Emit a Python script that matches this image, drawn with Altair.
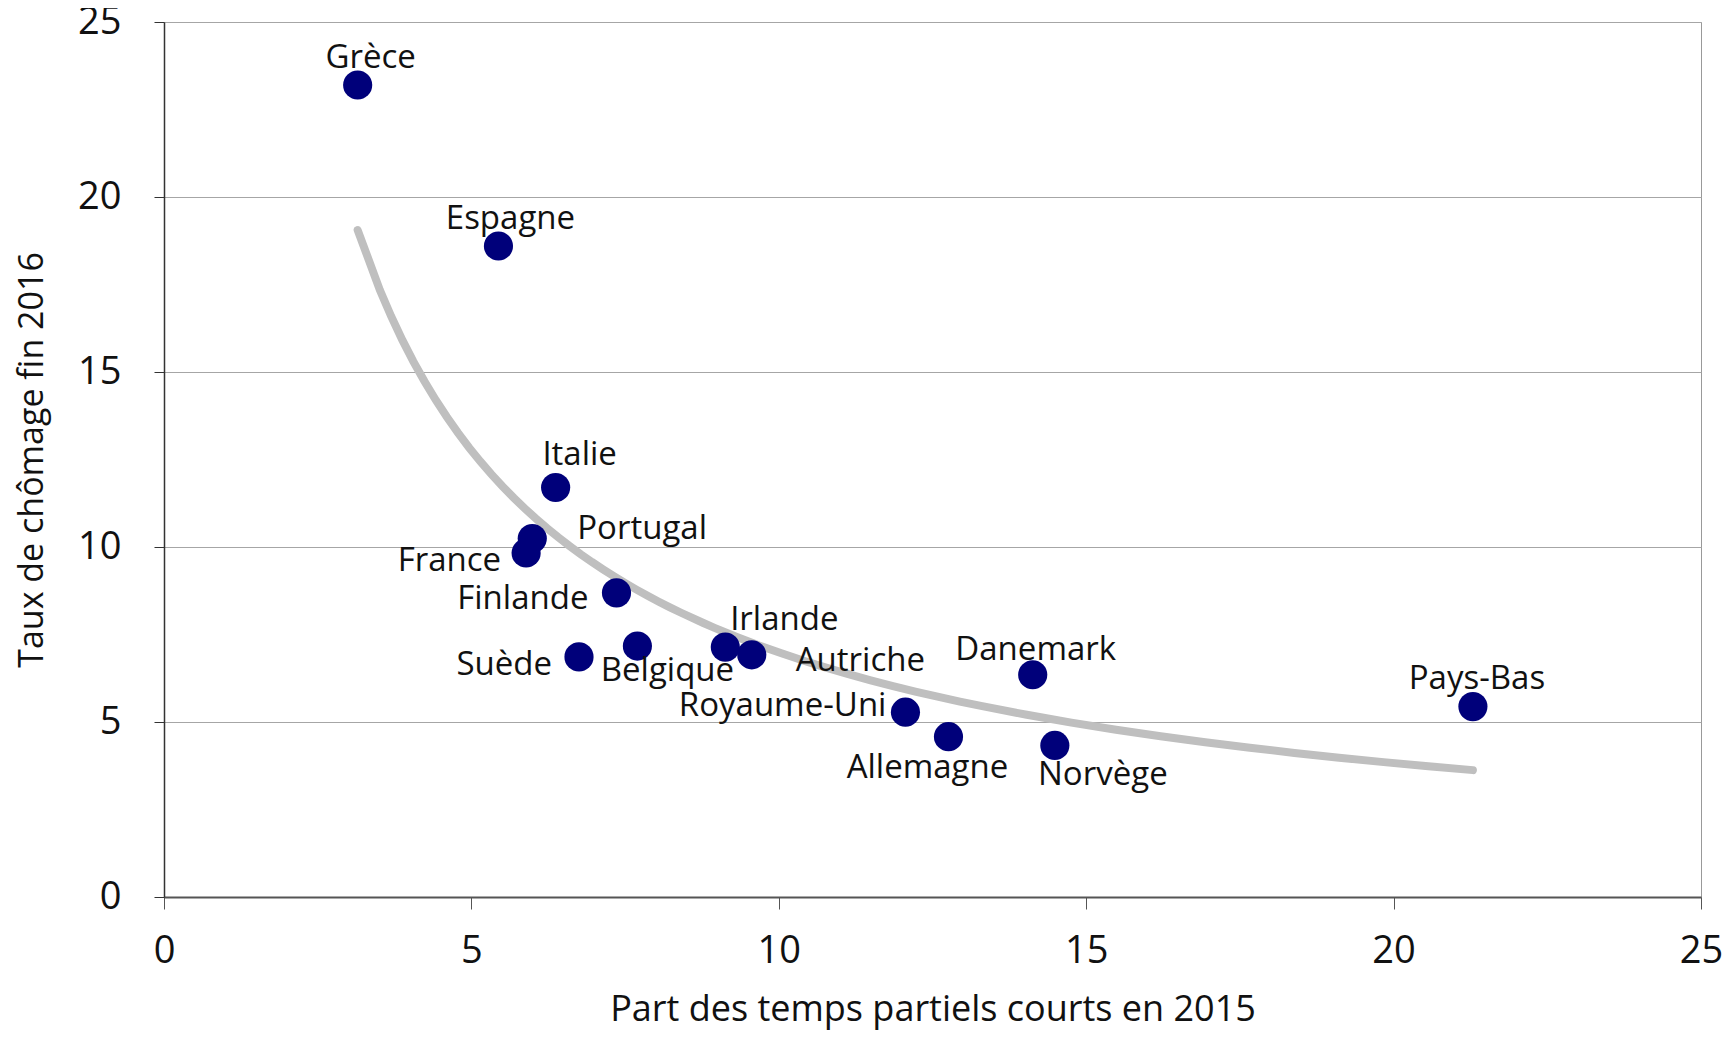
import altair as alt
import pandas as pd

countries = ["Grèce", "Espagne", "Italie", "Portugal", "France", "Finlande", "Suède",
             "Belgique", "Irlande", "Autriche", "Royaume-Uni", "Allemagne", "Danemark",
             "Norvège", "Pays-Bas"]
part_temps_partiels = [3.15, 5.44, 6.37, 5.99, 5.89, 7.36, 6.75, 7.70, 9.13, 9.56,
                       12.06, 12.76, 14.13, 14.49, 21.29]
taux_chomage = [23.2, 18.6, 11.7, 10.24, 9.83, 8.69, 6.86, 7.17, 7.14, 6.92,
                5.28, 4.58, 6.35, 4.33, 5.44]

x_ticks = [0, 5, 10, 15, 20, 25]
y_ticks = [0, 5, 10, 15, 20, 25]

# label placement (style only)
label_align = ["center", "center", "center", "left", "right", "right", "right",
               "center", "center", "left", "right", "center", "center", "center", "center"]
label_dx = [13, 12, 24, 45, -25, -28, -27, 30, 59, 44, -19, -21, 3, 48, 4]
label_dy = [-27, -27, -33, -10, 8, 6, 8, 25, -27, 6, -6, 31, -25, 30, -28]

FONT = "Open Sans"

df = pd.DataFrame({"pays": countries, "x": part_temps_partiels, "y": taux_chomage})

xs = alt.X("x:Q", scale=alt.Scale(domain=[0, 25], nice=False),
           axis=alt.Axis(values=x_ticks, title="Part des temps partiels courts en 2015",
                         grid=False, tickSize=12, labelPadding=23, titlePadding=22,
                         labelFlush=False,
                         labelFontSize=38, titleFontSize=36, labelFont=FONT, titleFont=FONT,
                         labelColor="#111", titleColor="#111", domainColor="#555",
                         domainWidth=2, tickColor="#555", titleFontWeight="normal"))
ys = alt.Y("y:Q", scale=alt.Scale(domain=[0, 25], nice=False),
           axis=alt.Axis(values=y_ticks, title="Taux de chômage fin 2016",
                         grid=True, gridColor="#a6a6a6", gridWidth=1,
                         tickSize=10, labelPadding=33, titlePadding=28,
                         labelFlush=False,
                         labelFontSize=38, titleFontSize=34, labelFont=FONT, titleFont=FONT,
                         labelColor="#111", titleColor="#111", domainColor="#333",
                         domainWidth=1.5, tickColor="#333", titleFontWeight="normal"))

base = alt.Chart(df)

trend = base.transform_regression("x", "y", method="pow").mark_line(
    color="#bfbfbf", strokeWidth=8, strokeCap="round"
).encode(x=xs, y=ys)

points = base.mark_circle(size=850, color="#00007a", opacity=1).encode(x=xs, y=ys)

labels = []
for i, name in enumerate(countries):
    labels.append(
        alt.Chart(df).transform_filter(alt.datum.pays == name).mark_text(
            align=label_align[i], baseline="middle", dx=label_dx[i], dy=label_dy[i],
            font=FONT, fontSize=33, color="#111"
        ).encode(x=xs, y=ys, text="pays:N")
    )

chart = alt.layer(trend, points, *labels).properties(
    width=1537, height=875,
    autosize=alt.AutoSizeParams(type="none"),
    padding={"left": 156, "top": 14, "right": 26, "bottom": 139},
).configure_view(stroke="#999", strokeWidth=1)

chart.save("out.html", embed_options={"renderer": "svg", "actions": False})
